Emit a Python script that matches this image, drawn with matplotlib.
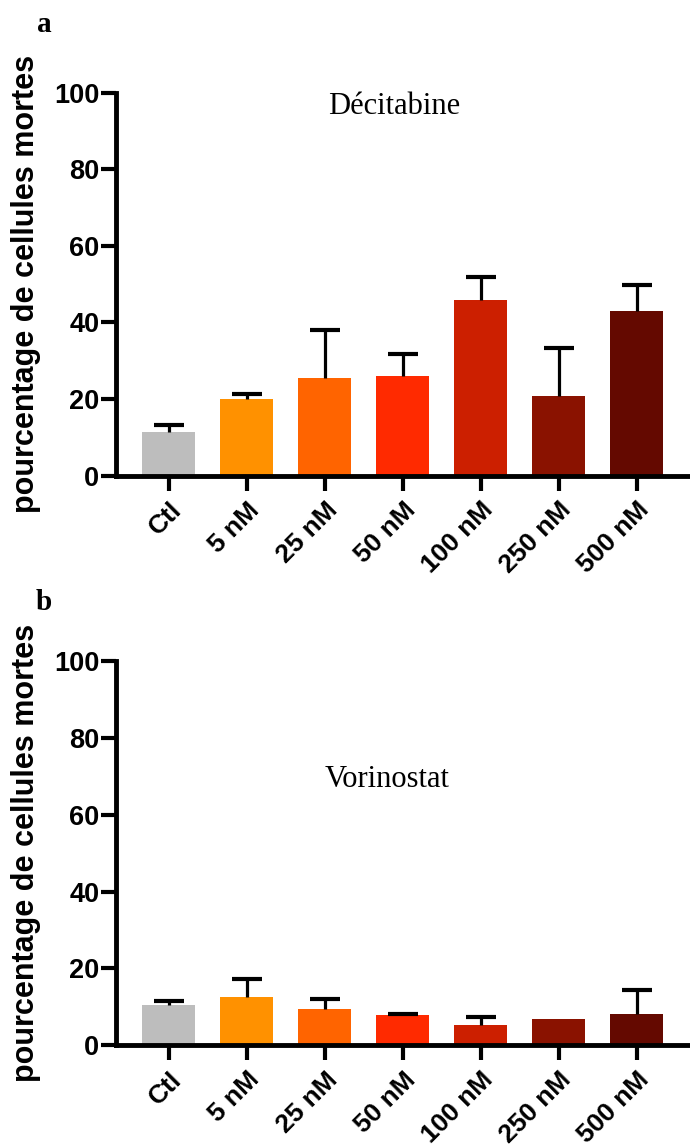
import numpy as np
import matplotlib
matplotlib.use("Agg")
import matplotlib.pyplot as plt

plt.rcParams['font.family'] = ['Liberation Sans', 'DejaVu Sans']

categories = ['Ctl', '5 nM', '25 nM', '50 nM', '100 nM', '250 nM', '500 nM']
colors = ['#bdbdbd', '#ff9100', '#ff6400', '#ff2a00', '#cc1f00', '#8a1200', '#640900']

deci_mean = [11.3, 20.0, 25.5, 26.0, 46.0, 20.7, 43.0]
deci_err = [1.8, 1.3, 12.5, 5.8, 5.8, 12.6, 6.8]

vori_mean = [10.5, 12.6, 9.5, 7.8, 5.2, 6.8, 8.2]
vori_err = [1.0, 4.7, 2.6, 0.3, 2.2, np.nan, 6.1]  # no bar shown for 250 nM


def draw_panel(ax, means, errs, title, tx, ty):
	x = np.arange(len(categories))
	ax.bar(x, means, width=0.68, color=colors, zorder=2)
	eb = ax.errorbar(x, means, yerr=[np.zeros(len(errs)), errs], fmt='none',
		ecolor='black', elinewidth=2.3, capsize=10.5, capthick=3, zorder=3)
	eb[1][0].set_visible(False)  # lower caps
	ax.set_xlim(-0.68, 6.68)
	ax.set_ylim(0, 100)
	ax.set_yticks([0, 20, 40, 60, 80, 100])
	ax.set_xticks(x)
	ax.set_xticklabels(categories, rotation=45, ha='right', va='top', rotation_mode='anchor',
		fontsize=19, fontweight='bold')
	for lab in ax.get_yticklabels():
		lab.set_fontsize(19.5)
		lab.set_fontweight('bold')
	for s in ['top', 'right']:
		ax.spines[s].set_visible(False)
	ax.spines['left'].set_linewidth(3.5)
	ax.spines['bottom'].set_linewidth(3.5)
	ax.tick_params(axis='both', direction='out', length=11, width=3)
	ax.tick_params(axis='x', pad=5)
	ax.tick_params(axis='y', pad=1)
	ax.set_ylabel('pourcentage de cellules mortes', fontsize=22, fontweight='bold')
	ax.yaxis.set_label_coords(-0.13, 0.5)
	ax.text(tx, ty, title, transform=ax.transAxes, ha='center', va='center',
		fontsize=22, family='Liberation Serif')


fig = plt.figure(figsize=(6.9, 11.46), dpi=100)
ax1 = fig.add_axes([0.168, 0.585, 0.832, 0.334])
ax2 = fig.add_axes([0.168, 0.088, 0.832, 0.335])

draw_panel(ax1, deci_mean, deci_err, 'Décitabine', 0.484, 0.963)
draw_panel(ax2, vori_mean, vori_err, 'Vorinostat', 0.472, 0.693)

fig.text(0.064, 0.979, 'a', fontsize=21, fontweight='bold', family='Liberation Serif', ha='center', va='center')
fig.text(0.064, 0.474, 'b', fontsize=21, fontweight='bold', family='Liberation Serif', ha='center', va='center')

fig.savefig('out.png', dpi=100)
